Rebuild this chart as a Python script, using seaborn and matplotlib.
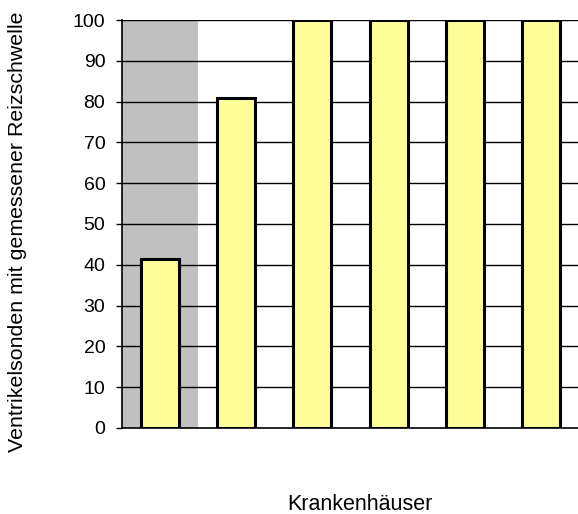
import matplotlib
matplotlib.use("Agg")
import matplotlib.pyplot as plt
import seaborn as sns
import pandas as pd

categories = ["1", "2", "3", "4", "5", "6"]
values = [41.3, 81, 100, 100, 100, 100]
y_ticks = [0, 10, 20, 30, 40, 50, 60, 70, 80, 90, 100]

sns.set_theme(style="white")
plt.rcParams['font.family'] = ['Liberation Sans', 'DejaVu Sans']
plt.rcParams['text.color'] = 'black'

df = pd.DataFrame({"Krankenhaus": categories, "Wert": values})

fig = plt.figure(figsize=(5.78, 5.14), dpi=100)
ax = fig.add_axes([122/578, 86/514, 457/578, 408/514])

ax.axvspan(-0.5, 0.5, color="#C0C0C0", zorder=0, lw=0)
for t in y_ticks[1:]:
    ax.axhline(t, color="black", lw=1.0, zorder=1)

sns.barplot(data=df, x="Krankenhaus", y="Wert", color="#FFFF99",
            edgecolor="black", linewidth=2.2, width=0.5, saturation=1,
            ax=ax, zorder=2)

ax.set_xlim(-0.5, 5.5)
ax.set_ylim(0, 100)
ax.set_yticks(y_ticks)
ax.set_yticklabels([str(t) for t in y_ticks], fontsize=14, color="black")
ax.set_xticks([])
ax.set_xlabel("")
ax.set_ylabel("")
for s in ["top", "right"]:
    ax.spines[s].set_visible(False)
for s in ["left", "bottom"]:
    ax.spines[s].set_color("black")
    ax.spines[s].set_linewidth(1.2)
ax.tick_params(axis="y", length=4.5, width=1, color="black", direction="out", left=True, pad=7.5)

fig.text(360/578, 1 - 504/514, "Krankenhäuser", ha="center", va="center",
         fontsize=15.5, color="black")
fig.text(18/578, 1 - 232/514, "Ventrikelsonden mit gemessener Reizschwelle",
         ha="center", va="center", rotation=90, fontsize=15.4, color="black")

fig.savefig("out.png", dpi=100)
